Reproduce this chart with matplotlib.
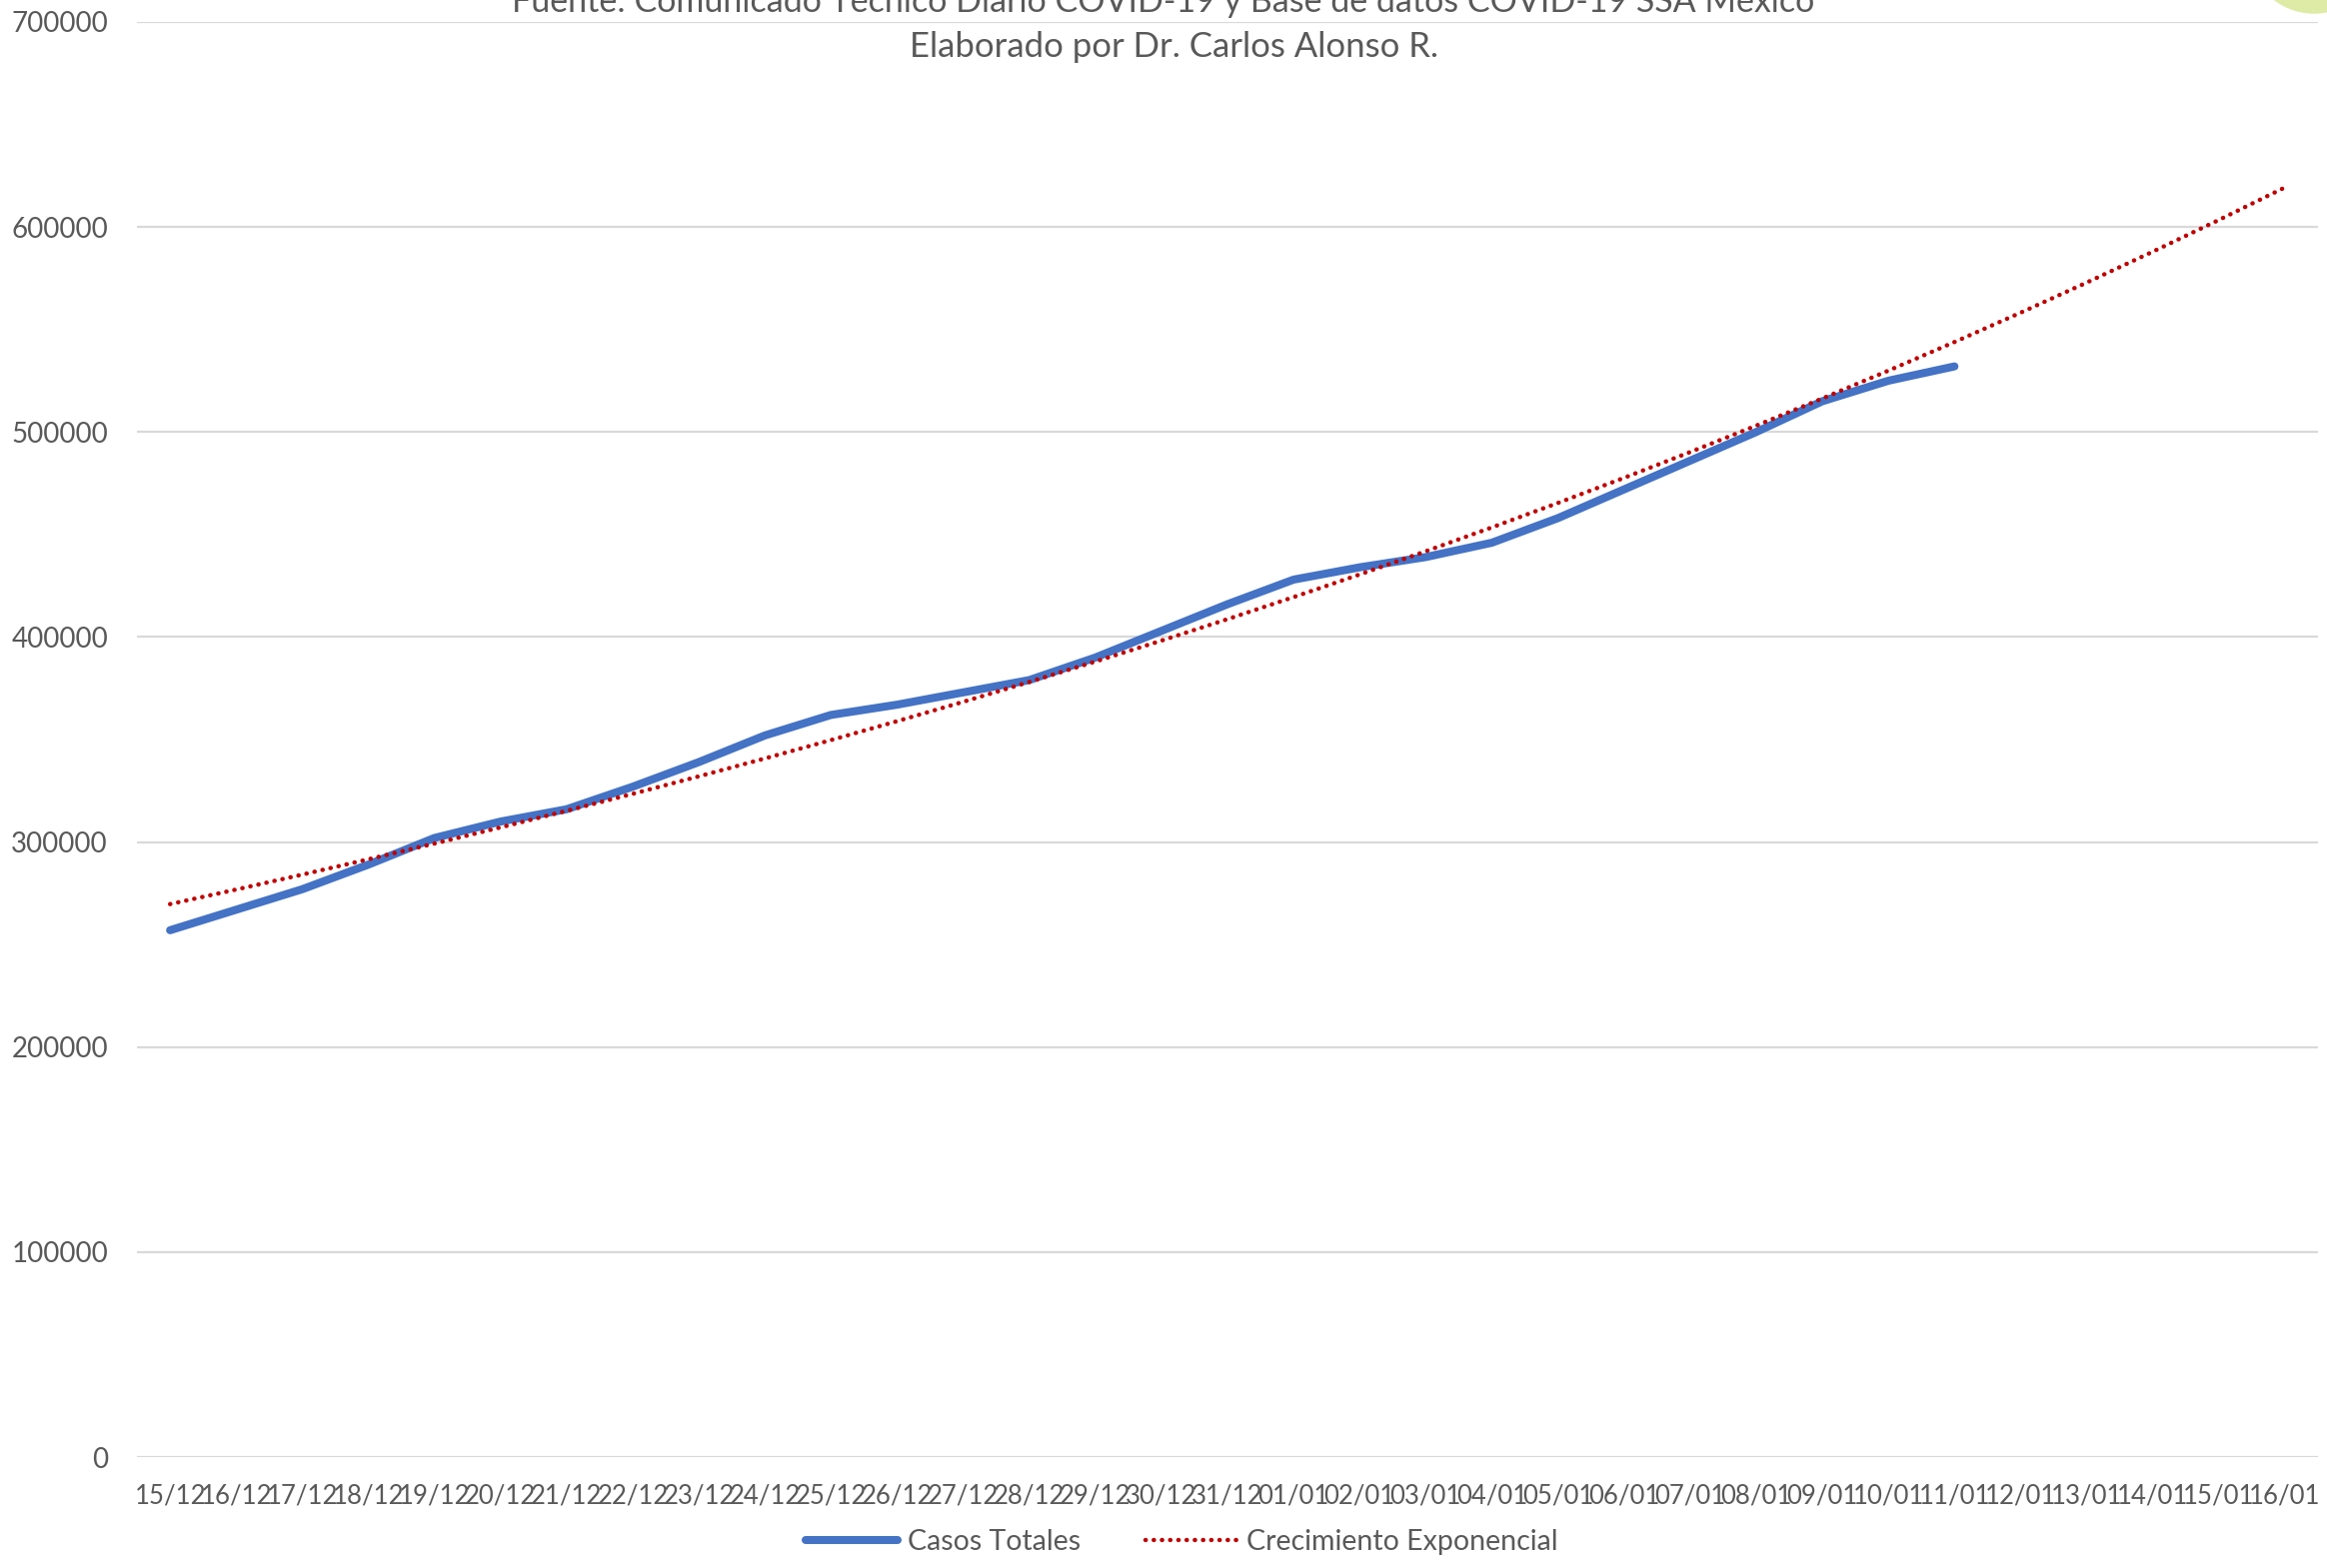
import matplotlib
matplotlib.use("Agg")
import matplotlib.pyplot as plt
from matplotlib.patches import Ellipse
import numpy as np

plt.rcParams['font.family'] = ['Lato', 'DejaVu Sans']

# dates 15/12 .. 16/01 (category axis)
fechas = ['15/12', '16/12', '17/12', '18/12', '19/12', '20/12', '21/12', '22/12',
          '23/12', '24/12', '25/12', '26/12', '27/12', '28/12', '29/12', '30/12',
          '31/12', '01/01', '02/01', '03/01', '04/01', '05/01', '06/01', '07/01',
          '08/01', '09/01', '10/01', '11/01', '12/01', '13/01', '14/01', '15/01',
          '16/01']

# total cases, 15/12 .. 11/01
casos_totales = [257000, 267000, 277000, 289000, 302000, 310000, 316000, 327000,
                 339000, 352000, 362000, 367000, 373000, 379000, 390000, 403000,
                 416000, 428000, 434000, 439000, 446000, 458000, 472000, 486000,
                 500000, 515000, 525000, 532000]

yticks = [0, 100000, 200000, 300000, 400000, 500000, 600000, 700000]

GRIS = '#595959'
AZUL = '#4472C4'
ROJO = '#C00000'

# exponential trendline like Excel (least squares on ln y), forecast to the last category
x_data = np.arange(1, len(casos_totales) + 1)
b, ln_a = np.polyfit(x_data, np.log(casos_totales), 1)
x_trend = np.arange(1, len(fechas) + 1)
tendencia = np.exp(ln_a + b * x_trend)

fig = plt.figure(figsize=(23.28, 15.69), dpi=100)
ax = fig.add_axes([0.0589, 0.0707, 0.9372, 0.9153])

pos = np.arange(len(fechas))
ax.plot(pos[:len(casos_totales)], casos_totales, color=AZUL, lw=5.8,
        solid_capstyle='round', solid_joinstyle='round', label='Casos Totales', zorder=3)
ax.plot(pos, tendencia, color=ROJO, lw=3.2, linestyle=(0, (0.05, 1.8)),
        dash_capstyle='round', label='Crecimiento Exponencial', zorder=4)

ax.set_xlim(-0.5, len(fechas) - 0.5)
ax.set_ylim(0, 700000)
ax.set_yticks(yticks)
ax.set_yticklabels([str(v) for v in yticks])
ax.set_xticks(pos)
ax.set_xticklabels(fechas)
ax.tick_params(axis='y', length=0, pad=21, labelsize=20, labelcolor=GRIS)
ax.tick_params(axis='x', length=0, pad=19, labelsize=18.5, labelcolor=GRIS)
ax.grid(axis='y', color='#D9D9D9', lw=1.6)
ax.set_axisbelow(True)
for s in ax.spines.values():
    s.set_visible(False)

fig.text(0.5, 1 - 12 / 1569, 'Fuente: Comunicado Técnico Diario COVID-19 y Base de datos COVID-19 SSA México',
         ha='center', va='baseline', fontsize=24.5, color=GRIS)
fig.text(0.5045, 1 - 47 / 1569, 'Elaborado por Dr. Carlos Alonso R.',
         ha='center', va='center', fontsize=25, color=GRIS)

# logo fragment in the top right corner
fig.patches.append(Ellipse((2315 / 2328, 1 + 52 / 1569), 130 / 2328, 130 / 1569,
                           transform=fig.transFigure, color='#DDEBA6', zorder=0))

fig.legend(loc='center', bbox_to_anchor=(0.508, 1 - 1543 / 1569), ncol=2, frameon=False,
           fontsize=20.5, labelcolor=GRIS, handlelength=3.2, columnspacing=2.3,
           handletextpad=0.35)

fig.savefig('out.png', dpi=100)
